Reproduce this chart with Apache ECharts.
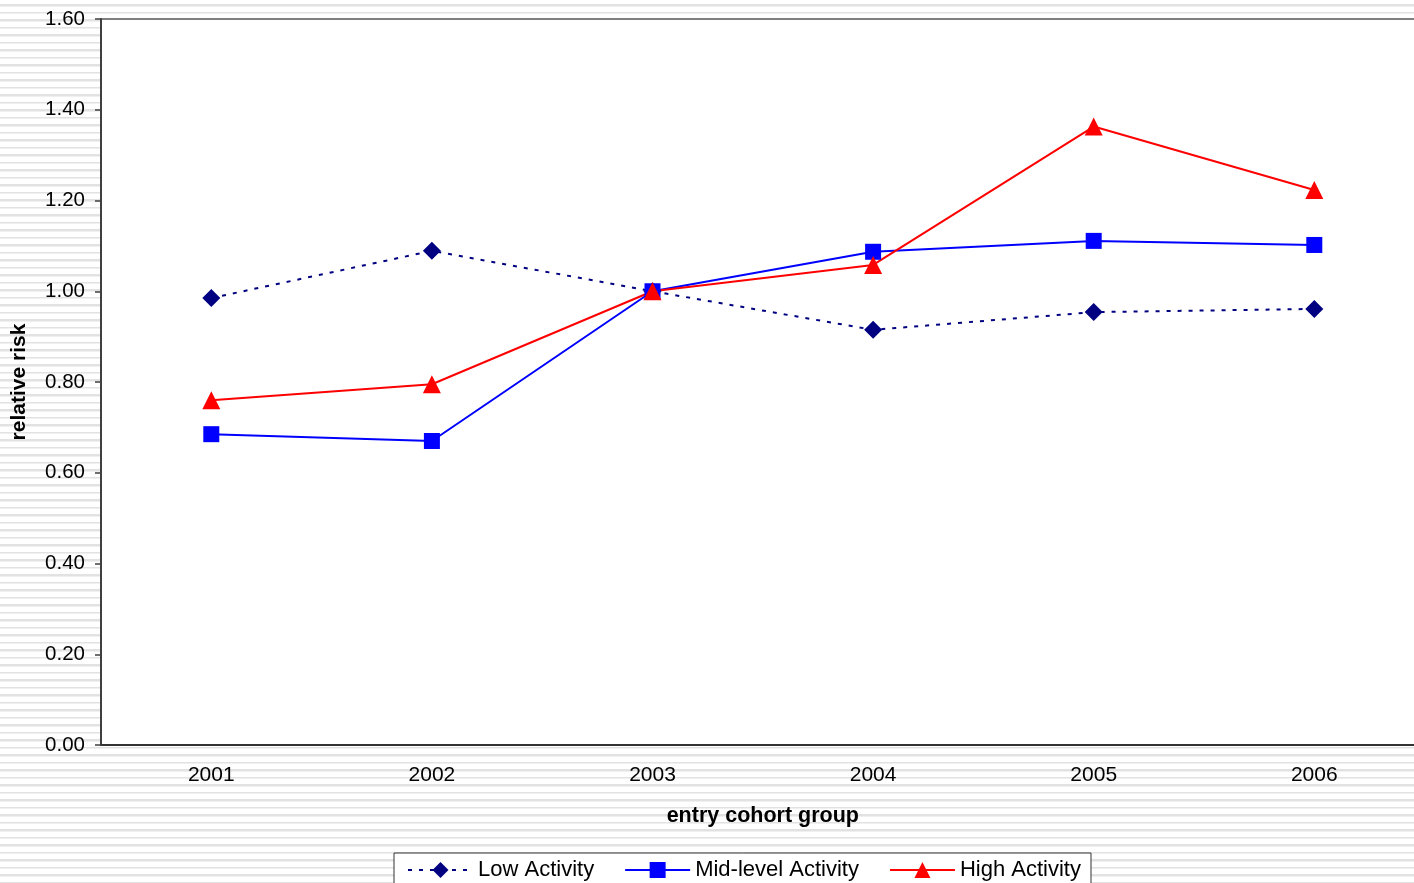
<!DOCTYPE html>
<html>
<head>
<meta charset="utf-8">
<script src="https://cdn.jsdelivr.net/npm/echarts@6/dist/echarts.min.js"></script>
<style>
html, body { margin: 0; padding: 0; }
body {
  width: 1414px; height: 883px; overflow: hidden;
  background: repeating-linear-gradient(to bottom, #ffffff 0px, #ffffff 4.5px, #e2e2e2 4.5px, #e2e2e2 5.7px, #f0f0f0 5.7px, #f0f0f0 6.7px, #ffffff 6.7px, #ffffff 7.5px);
}
#chart { width: 1450px; height: 883px; }
</style>
</head>
<body>
<div id="chart"></div>
<script>
const categories = ['2001', '2002', '2003', '2004', '2005', '2006'];
const lowActivity = [0.985, 1.089, 1.00, 0.915, 0.954, 0.961];
const midActivity = [0.685, 0.670, 1.00, 1.087, 1.111, 1.102];
const highActivity = [0.760, 0.795, 1.00, 1.058, 1.363, 1.223];
const seriesNames = ['Low Activity', 'Mid-level Activity', 'High Activity'];

const FONT = '"Liberation Sans", Arial, sans-serif';
const chart = echarts.init(document.getElementById('chart'), null, { renderer: 'canvas' });

chart.setOption({
  backgroundColor: 'transparent',
  animation: false,
  grid: {
    left: 101, top: 19, width: 1323.6, height: 726,
    show: true, backgroundColor: '#ffffff', borderColor: '#808080', borderWidth: 2,
    containLabel: false
  },
  legend: {
    left: 394, top: 853,
    padding: [6, 10, 20, 13],
    itemWidth: 65, itemHeight: 20, itemGap: 30,
    backgroundColor: '#ffffff',
    borderColor: '#333333', borderWidth: 1,
    textStyle: { fontFamily: FONT, fontSize: 22, color: '#000' },
    data: seriesNames
  },
  xAxis: {
    type: 'category',
    data: categories,
    boundaryGap: true,
    name: 'entry cohort group',
    nameLocation: 'middle',
    nameGap: 60,
    nameTextStyle: { fontFamily: FONT, fontSize: 21.5, fontWeight: 'bold', color: '#000' },
    axisLine: { show: true, lineStyle: { color: '#333333', width: 2 } },
    axisTick: { show: false },
    axisLabel: { fontFamily: FONT, fontSize: 21, color: '#000', margin: 20 },
    splitLine: { show: false }
  },
  yAxis: {
    type: 'value',
    min: 0, max: 1.6, interval: 0.2,
    name: 'relative risk',
    nameLocation: 'middle',
    nameGap: 71,
    nameRotate: 90,
    nameTextStyle: { fontFamily: FONT, fontSize: 21, fontWeight: 'bold', color: '#000' },
    axisLine: { show: true, lineStyle: { color: '#404040', width: 2 } },
    axisTick: { show: true, inside: false, length: 6, lineStyle: { color: '#404040', width: 1.5 } },
    axisLabel: { fontFamily: FONT, fontSize: 20.5, color: '#000', margin: 16,
      formatter: v => v.toFixed(2) },
    splitLine: { show: false }
  },
  series: [
    {
      name: seriesNames[0], type: 'line', data: lowActivity,
      symbol: 'diamond', symbolSize: 18,
      itemStyle: { color: '#000080' },
      lineStyle: { color: '#000080', width: 2, type: [4, 7] }
    },
    {
      name: seriesNames[1], type: 'line', data: midActivity,
      symbol: 'rect', symbolSize: 16,
      itemStyle: { color: '#0000ff' },
      lineStyle: { color: '#0000ff', width: 2 }
    },
    {
      name: seriesNames[2], type: 'line', data: highActivity,
      symbol: 'triangle', symbolSize: 18,
      itemStyle: { color: '#ff0000' },
      lineStyle: { color: '#ff0000', width: 2 }
    }
  ]
});
</script>
</body>
</html>
